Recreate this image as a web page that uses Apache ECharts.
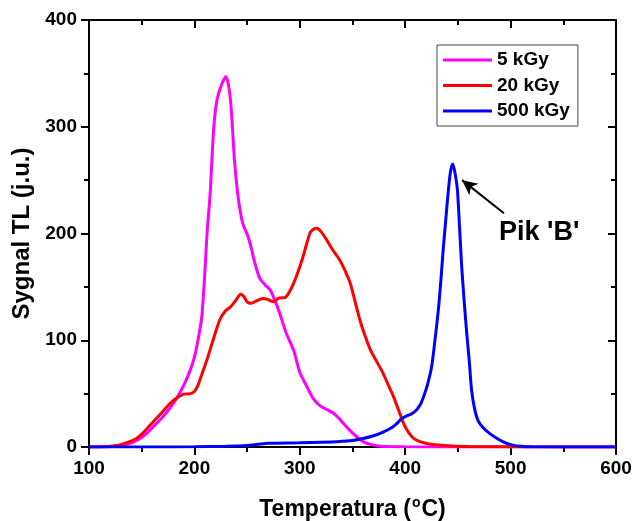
<!DOCTYPE html>
<html>
<head>
<meta charset="utf-8">
<script src="https://cdn.jsdelivr.net/npm/echarts@6/dist/echarts.min.js"></script>
<style>html,body{margin:0;padding:0;background:#fff;overflow:hidden}#c{width:632px;height:521px}</style>
</head>
<body>
<div id="c"></div>
<script>
const xTicks = [100, 200, 300, 400, 500, 600];
const yTicks = [0, 100, 200, 300, 400];
const seriesNames = ['5 kGy', '20 kGy', '500 kGy'];

const t5 = [100,120,130,139,147,155,162,170,178,185,191,196,200,203,207,210,212,215,218,221,226,230,233,235,238,241,244,246,251,254,258,262,267,272,276,281,287,294,300,306,313,320,326,332,337,340,347,354,360,367,375,385,400,450,500,600];
const v5 = [0,0.5,1.5,3.5,7,13,20,28,38,48.7,60,72,84,98,122,165,200,238,294,323,340,347,335,316,269,238,218,209,197,186,170,158,152,147,138,125,107,91,70,58,45,38,35,31.6,27,23.7,16,9.6,5,2.5,1,0.5,0.2,0,0,0];

const t20 = [100,115,129,137,145,153,161,169,177,185,190,196,200,203,207,212,218,224,229,234,239,244,247,250,254,259,265,270,275,280,286,290,294,299,303,307,310,313,316,320,325.5,331,338,343,348,352,357,362,367,373,379,384,389,395,399,403,408,414,423,440,460,500,600];
const v20 = [0,0.3,2,4.5,8,15,23.7,32,41,47,49.5,50,52,57,68,82,101,119,127,131,137,143,141,136,134.6,137,139,138,136,139.5,140,145,153,166,178,192,201,204,205,202,194,185,175,165,153,138,119,104,91,80,69,58,47,31,21,14,8,5,2.8,1.2,0.5,0.2,0];

const t500 = [100,150,200,230,250,260,270,300,320,335,350,360,370,379,387,392,396,401,406,410,414,417,421,425,428,431.4,434,436,438.5,441,443,445,447,449.5,451.5,453.6,456,458.4,461,463,466,469,474,480,488,496,503,510,520,600];
const v500 = [0,0,0.3,0.8,1.5,2.5,3.5,4,4.5,5,6,8,10.5,14,18,22,26,29,31,34,39,46,58,75,98,128,158,184.5,213,241,258,265,258,241,207,169,136,106.5,78,53,35,25,18,12.8,7.5,3.5,1.5,0.7,0.2,0];

const arrowFrom = [493.7, 219];
const arrowTo = [454, 250];

const pairs = (t, v) => t.map((x, i) => [x, v[i]]);
const FONT = '"Liberation Sans", Arial, sans-serif';
const colors = ['#FF00FF', '#FF0000', '#0000FF'];

const chart = echarts.init(document.getElementById('c'), null, {renderer: 'canvas', width: 632, height: 521});
const axisLine = {show: true, onZero: false, lineStyle: {color: '#000', width: 2}};
const mkSeries = (name, t, v, color) => ({
  name, type: 'line', data: pairs(t, v), showSymbol: false, symbol: 'none',
  smooth: 0.25, lineStyle: {color, width: 3}, itemStyle: {color}, z: 3
});
const s3 = mkSeries(seriesNames[2], t500, v500, colors[2]);
s3.markLine = {
  silent: true, symbol: ['none', 'arrow'], symbolSize: [11, 15],
  label: {show: false},
  lineStyle: {color: '#000', width: 2, type: 'solid'},
  data: [[{coord: arrowFrom}, {coord: arrowTo}]]
};

chart.setOption({
  animation: false,
  backgroundColor: '#fff',
  grid: {left: 89, top: 20, width: 527, height: 427, containLabel: false, outerBoundsMode: 'none'},
  legend: {
    show: true, orient: 'vertical', left: 437, top: 45,
    padding: [5, 8, 5, 6], itemGap: 5.5, itemWidth: 49, itemHeight: 20,
    borderColor: '#444', borderWidth: 1, backgroundColor: '#fff',
    icon: 'path://M0,8.5 L49,8.5 L49,11.5 L0,11.5 Z',
    data: seriesNames,
    textStyle: {fontFamily: FONT, fontWeight: 'bold', fontSize: 19, color: '#000', width: 71, align: 'right', lineHeight: 20}
  },
  xAxis: [{
    type: 'value', min: xTicks[0], max: xTicks[xTicks.length - 1], interval: 100,
    axisLine, splitLine: {show: false},
    axisTick: {show: true, length: 8, lineStyle: {color: '#000', width: 2}},
    minorTick: {show: true, splitNumber: 2, length: 5, lineStyle: {color: '#000', width: 2}},
    axisLabel: {fontFamily: FONT, fontWeight: 'bold', fontSize: 19, color: '#000', margin: 12},
    name: '{t|Temperatura (}{sup|o}{t|C)}', nameLocation: 'middle', nameGap: 48,
    nameTextStyle: {fontFamily: FONT, fontWeight: 'bold', fontSize: 23, color: '#000',
      rich: {
        t: {fontFamily: FONT, fontWeight: 'bold', fontSize: 23, color: '#000', lineHeight: 26, verticalAlign: 'bottom'},
        sup: {fontFamily: FONT, fontWeight: 'bold', fontSize: 14, color: '#000', lineHeight: 14, verticalAlign: 'bottom', padding: [0, 1, 11, 1]}
      }}
  }, {
    type: 'value', position: 'top', min: xTicks[0], max: xTicks[xTicks.length - 1], interval: 100,
    axisLine, splitLine: {show: false},
    axisTick: {show: true, inside: true, length: 8, lineStyle: {color: '#000', width: 2}},
    minorTick: {show: true, splitNumber: 2, length: 5, lineStyle: {color: '#000', width: 2}},
    axisLabel: {show: false}
  }],
  yAxis: [{
    type: 'value', min: yTicks[0], max: yTicks[yTicks.length - 1], interval: 100,
    axisLine, splitLine: {show: false},
    axisTick: {show: true, length: 8, lineStyle: {color: '#000', width: 2}},
    minorTick: {show: true, splitNumber: 2, length: 5, lineStyle: {color: '#000', width: 2}},
    axisLabel: {fontFamily: FONT, fontWeight: 'bold', fontSize: 19, color: '#000', margin: 12},
    name: 'Sygnal TL (j.u.)', nameLocation: 'middle', nameGap: 54,
    nameTextStyle: {fontFamily: FONT, fontWeight: 'bold', fontSize: 24, color: '#000'}
  }, {
    type: 'value', position: 'right', min: yTicks[0], max: yTicks[yTicks.length - 1], interval: 100,
    axisLine, splitLine: {show: false},
    axisTick: {show: true, inside: true, length: 8, lineStyle: {color: '#000', width: 2}},
    minorTick: {show: true, splitNumber: 2, length: 5, lineStyle: {color: '#000', width: 2}},
    axisLabel: {show: false}
  }],
  graphic: [{
    type: 'text', left: 499, top: 219,
    style: {text: "Pik 'B'", font: 'bold 27px ' + FONT, fill: '#000'}
  }],
  series: [
    mkSeries(seriesNames[0], t5, v5, colors[0]),
    mkSeries(seriesNames[1], t20, v20, colors[1]),
    s3
  ]
});
</script>
</body>
</html>
